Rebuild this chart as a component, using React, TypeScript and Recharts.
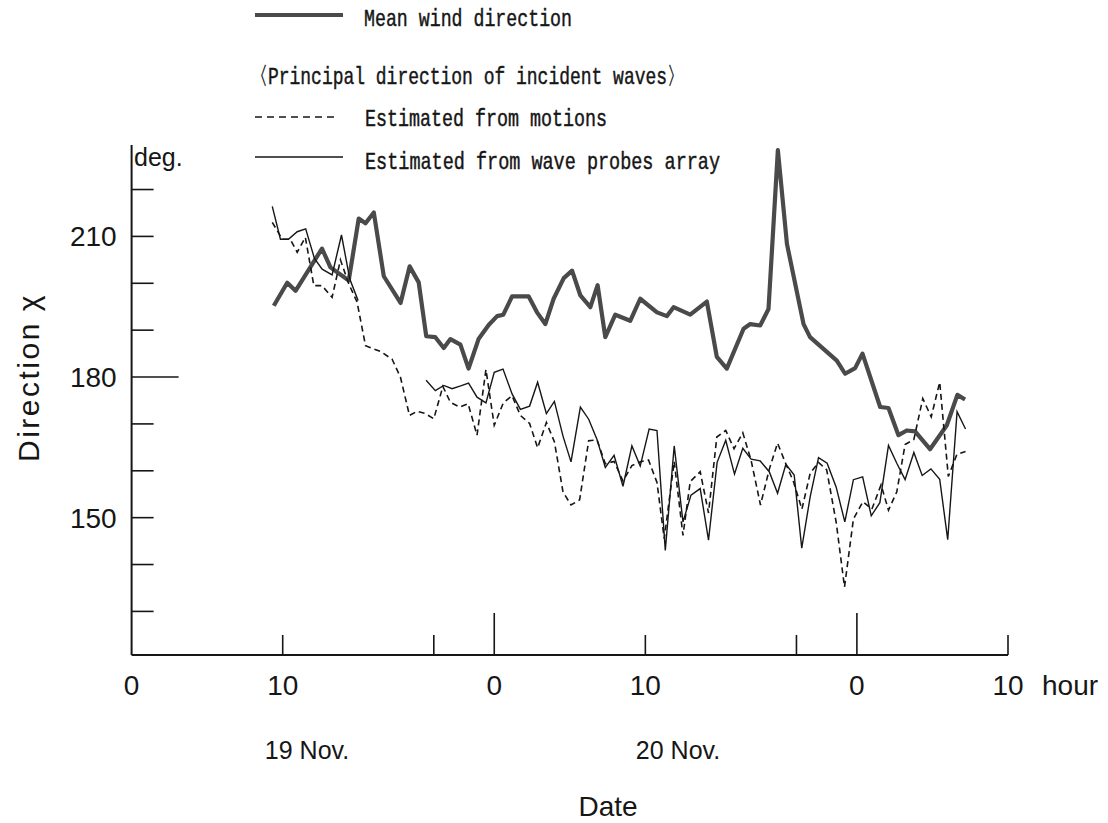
import { LineChart, Line, XAxis, YAxis, Legend } from "recharts";

// Mean wind direction, hours counted from 0h on 19 Nov.
const windHours = [
  9.41, 10.3, 10.85, 12.6, 13.16, 14.37, 15.03, 15.48, 16.03, 16.69, 17.8, 18.4,
  19.0, 19.5, 20.1, 20.66, 21.1, 21.76, 22.3, 22.96, 23.63, 24.19, 24.6, 25.18,
  26.28, 26.83, 27.38, 27.93, 28.6, 29.15, 29.7, 30.36, 30.84, 31.35, 32.01, 33.0,
  33.66, 34.77, 35.43, 35.87, 36.97, 38.07, 38.73, 39.39, 40.5, 40.94, 41.6, 42.15,
  42.77, 43.37, 44.47, 44.9, 46.67, 47.22, 47.88, 48.37, 49.54, 50.09, 50.75, 51.3,
  51.85, 52.84, 53.95, 54.65, 55.16,
];
const windDir = [
  195.2, 200.1, 198.4, 207.4, 203.4, 200.6, 213.8, 212.8, 215.1, 201.5, 195.8, 203.6,
  200.2, 188.7, 188.5, 186.2, 188.1, 186.9, 181.8, 188.1, 191.1, 193.0, 193.3, 197.2,
  197.2, 193.8, 191.3, 196.7, 201.1, 202.7, 197.4, 194.9, 199.6, 188.5, 193.3, 192.0,
  196.7, 193.8, 193.0, 194.9, 193.3, 196.1, 184.3, 181.8, 190.3, 191.3, 191.0, 194.5,
  228.4, 208.4, 191.3, 188.5, 183.5, 180.7, 181.9, 185.0, 173.6, 173.4, 167.6, 168.6,
  168.4, 164.6, 169.7, 176.2, 175.2,
];

// Principal wave direction estimated from ship motions
const motionHours = [
  9.31, 9.97, 10.5, 10.96, 11.5, 12.06, 12.6, 13.27, 13.82, 14.37, 14.92, 15.48,
  16.5, 17.24, 17.79, 18.39, 18.9, 19.44, 20.0, 20.6, 21.1, 21.7, 22.27, 22.86,
  23.45, 24.0, 24.6, 25.18, 25.73, 26.34, 26.87, 27.45, 27.98, 28.55, 29.08, 29.65,
  30.25, 30.8, 31.35, 31.93, 32.52, 33.11, 33.66, 34.21, 34.77, 35.25, 35.91, 36.49,
  36.97, 37.63, 38.18, 38.73, 39.32, 39.87, 40.45, 41.0, 41.62, 42.2, 42.75, 43.28,
  43.8, 44.36, 44.91, 45.46, 46.0, 46.63, 47.18, 47.77, 48.4, 48.99, 49.6, 50.09,
  50.64, 51.19, 51.77, 52.36, 52.92, 53.48, 54.05, 54.62, 55.19,
];
const motionDir = [
  213.0, 209.4, 209.4, 206.6, 209.8, 199.5, 199.5, 197.0, 205.0, 199.9, 196.0, 186.7,
  185.4, 183.8, 180.0, 171.8, 172.7, 172.2, 171.1, 178.0, 174.6, 173.6, 174.3, 167.6,
  181.6, 169.7, 174.5, 176.0, 171.8, 170.1, 164.9, 170.3, 166.2, 155.5, 152.7, 153.8,
  166.4, 166.6, 161.5, 162.0, 157.8, 161.1, 161.9, 162.3, 157.5, 145.5, 162.0, 146.2,
  157.7, 159.8, 151.0, 167.2, 168.6, 164.7, 168.1, 162.2, 152.7, 160.3, 165.9, 161.6,
  157.7, 151.8, 159.5, 161.8, 160.2, 149.0, 135.2, 149.7, 153.4, 151.8, 157.0, 151.6,
  155.5, 165.6, 166.7, 175.4, 171.5, 178.9, 158.8, 163.5, 164.1,
];

// Principal wave direction estimated from the wave probe array (no records 15h-19h)
const probeHours = [
  9.31, 9.85, 10.38, 10.96, 11.52, 12.1, 12.61, 13.27, 13.89, 14.44, 14.99, 17.2,
  19.49, 20.1, 20.66, 21.21, 21.78, 22.3, 22.86, 23.45, 24.0, 24.58, 25.18, 25.73,
  26.34, 26.87, 27.45, 27.98, 28.55, 29.08, 29.7, 30.25, 30.8, 31.35, 31.93, 32.52,
  33.11, 33.66, 34.25, 34.77, 35.32, 35.91, 36.49, 37.02, 37.63, 38.18, 38.75, 39.32,
  39.9, 40.45, 41.0, 41.6, 42.2, 42.75, 43.3, 43.85, 44.35, 44.91, 45.46, 46.03,
  46.63, 47.2, 47.77, 48.38, 48.95, 49.52, 50.09, 50.64, 51.19, 51.77, 52.32, 52.9,
  53.48, 54.01, 54.63, 55.19,
];
const probeDir = [
  216.4, 209.4, 209.4, 211.0, 211.6, 205.3, 203.0, 201.8, 210.3, 200.9, 196.3, null,
  179.3, 177.1, 178.2, 177.5, 178.1, 178.7, 175.7, 174.5, 181.0, 181.7, 176.4, 173.1,
  173.8, 178.9, 172.2, 174.8, 167.4, 161.9, 173.6, 171.0, 166.7, 160.7, 163.3, 156.7,
  165.3, 161.0, 168.9, 168.6, 143.0, 165.3, 149.1, 154.8, 156.2, 145.2, 161.8, 166.5,
  159.3, 164.8, 162.5, 162.1, 159.8, 155.2, 161.4, 159.1, 143.5, 154.5, 162.8, 161.6,
  156.5, 149.1, 158.1, 158.7, 150.4, 153.2, 165.4, 161.6, 158.1, 163.9, 159.0, 160.4,
  158.2, 145.3, 172.6, 168.9,
];

const dirTicks = [130, 140, 150, 160, 170, 180, 190, 200, 210, 220];
const dirLabels = [150, 180, 210];
const hourTicks = [0, 10, 20, 24, 34, 44, 48, 58];

const sans = "'Liberation Sans', Arial, Helvetica, sans-serif";
const mono = "'Liberation Mono', 'DejaVu Sans Mono', monospace";
const ink = "#161616";
const windGrey = "#4a4a4a";

const pairs = (hours: number[], dirs: (number | null)[]) =>
  hours.map((hour, i) => ({ hour, dir: dirs[i] }));

const windData = pairs(windHours, windDir);
const motionData = pairs(motionHours, motionDir);
const probeData = pairs(probeHours, probeDir);

// inward ticks on the direction axis, the 180 deg one drawn longer
function DirTick({ x, y, payload }: any) {
  const v = payload.value;
  return (
    <g>
      <line x1={x} y1={y} x2={x + (v === 180 ? 47 : 22)} y2={y} stroke={ink} strokeWidth={1.6} />
      {dirLabels.includes(v) && (
        <text x={x - 15} y={y} dy="0.36em" textAnchor="end" fontFamily={sans} fontSize={28} fill={ink}>
          {v}
        </text>
      )}
    </g>
  );
}

// hour-of-day ticks pointing up; midnight ticks are longer
function HourTick({ x, y, payload }: any) {
  const h = payload.value;
  const clock = h % 24;
  return (
    <g>
      {h > 0 && (
        <line x1={x} y1={y} x2={x} y2={y - (clock === 0 ? 42 : 20)} stroke={ink} strokeWidth={1.6} />
      )}
      {clock !== 20 && (
        <text x={x} y={y + 30} dy="0.36em" textAnchor="middle" fontFamily={sans} fontSize={28} fill={ink}>
          {clock}
        </text>
      )}
    </g>
  );
}

function BottomText() {
  const t = { fontFamily: sans, fill: ink };
  return (
    <g>
      <text x={1042} y={685} dy="0.36em" {...t} fontSize={28}>hour</text>
      <text x={307} y={750} dy="0.36em" textAnchor="middle" {...t} fontSize={25}>19 Nov.</text>
      <text x={678} y={750} dy="0.36em" textAnchor="middle" {...t} fontSize={25}>20 Nov.</text>
      <text x={608} y={806} dy="0.36em" textAnchor="middle" {...t} fontSize={28}>Date</text>
    </g>
  );
}

function SideText() {
  const t = { fontFamily: sans, fill: ink };
  return (
    <g>
      <text transform="translate(28,462) rotate(-90)" dy="0.36em" {...t} fontSize={30}>
        <tspan letterSpacing={2.5}>Direction</tspan>
        <tspan dx={10}>χ</tspan>
      </text>
      <text x={134} y={157} dy="0.36em" {...t} fontSize={25}>deg.</text>
    </g>
  );
}

// key drawn in a narrow typewriter style, slightly heavier strokes
function Key() {
  const t = {
    fontFamily: mono,
    fontSize: 24,
    fill: ink,
    stroke: ink,
    strokeWidth: 0.45,
    lengthAdjust: "spacingAndGlyphs" as const,
  };
  return (
    <svg width={1108} height={180} style={{ display: "block" }}>
      <line x1={255} y1={15} x2={343} y2={15} stroke={windGrey} strokeWidth={4.2} />
      <text x={364} y={26} textLength={208} {...t}>Mean wind direction</text>
      <text x={250} y={84} textLength={435} {...t}>〈Principal direction of incident waves〉</text>
      <line x1={255} y1={117} x2={338} y2={117} stroke={ink} strokeWidth={1.6} strokeDasharray="7 5" />
      <text x={365} y={126} textLength={242} {...t}>Estimated from motions</text>
      <line x1={255} y1={157} x2={343} y2={157} stroke={ink} strokeWidth={1.6} />
      <text x={365} y={169} textLength={355} {...t}>Estimated from wave probes array</text>
    </svg>
  );
}

export default function App() {
  return (
    <div style={{ position: "absolute", left: 0, top: 0, width: 1108, height: 823, background: "#fff" }}>
      <LineChart width={1108} height={823} margin={{ top: 145, right: 100, bottom: 167, left: 130.6 }}>
        <XAxis
          dataKey="hour"
          type="number"
          domain={[0, 58]}
          ticks={hourTicks}
          interval={0}
          height={1}
          axisLine={{ stroke: ink, strokeWidth: 2 }}
          tickLine={false}
          tickSize={0}
          tickMargin={0}
          tick={<HourTick />}
          label={BottomText}
        />
        <YAxis
          type="number"
          domain={[120.7, 229.5]}
          ticks={dirTicks}
          interval={0}
          width={1}
          axisLine={{ stroke: ink, strokeWidth: 2 }}
          tickLine={false}
          tickSize={0}
          tickMargin={0}
          tick={<DirTick />}
          label={SideText}
        />
        <Legend
          layout="vertical"
          align="center"
          verticalAlign="middle"
          content={<Key />}
          wrapperStyle={{ left: 0, top: 0, width: 1108, height: 180 }}
        />
        <Line
          data={windData}
          dataKey="dir"
          type="linear"
          stroke={windGrey}
          strokeWidth={4.2}
          strokeLinejoin="round"
          dot={false}
          isAnimationActive={false}
        />
        <Line
          data={motionData}
          dataKey="dir"
          type="linear"
          stroke={ink}
          strokeWidth={1.6}
          strokeDasharray="6 4"
          dot={false}
          isAnimationActive={false}
        />
        <Line
          data={probeData}
          dataKey="dir"
          type="linear"
          stroke={ink}
          strokeWidth={1.4}
          dot={false}
          isAnimationActive={false}
        />
      </LineChart>
    </div>
  );
}
